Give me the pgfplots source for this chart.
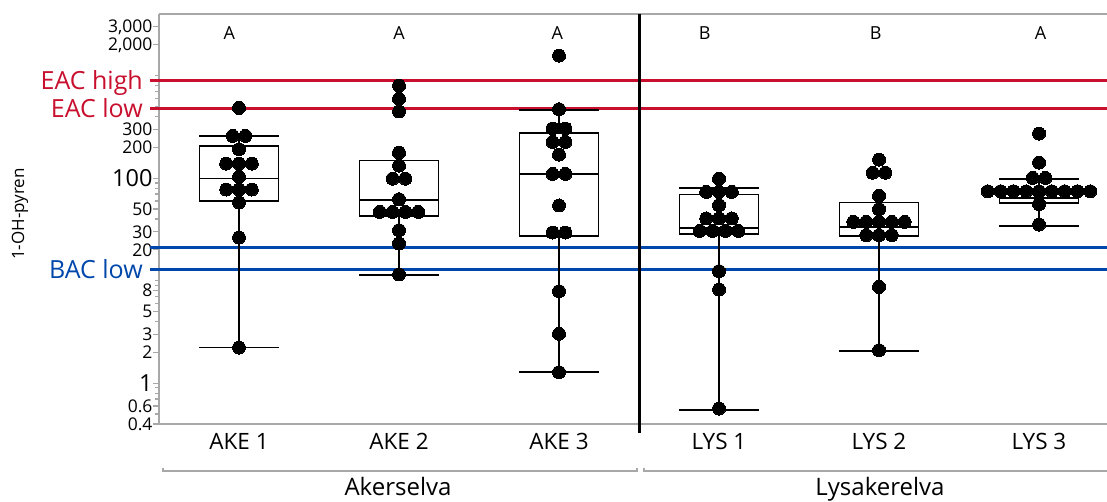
\documentclass[border=0pt]{standalone}
\usepackage{pgfplots}
\pgfplotsset{compat=1.18}
\usepgfplotslibrary{statistics}
\usepackage{fontspec}
\setmainfont{Open Sans}
\definecolor{axisgray}{RGB}{168,168,168}
\definecolor{eacred}{RGB}{200,16,46}
\definecolor{bacblue}{RGB}{0,71,171}
\pgfplotsset{
  boxplot/every box/.style={draw=black, line width=1.8pt},
  boxplot/every whisker/.style={draw=black, line width=1.8pt},
  boxplot/every median/.style={draw=black, line width=1.8pt},
}
\pgfplotstableread[row sep=\\]{
x y \\
0 485 \\ -0.04 259 \\ 0.04 259 \\ 0 192 \\ -0.08 139 \\ 0 139 \\ 0.08 139 \\ 0 103 \\
-0.08 77.6 \\ 0 77.6 \\ 0.08 77.6 \\ 0 58 \\ 0 26.4 \\ 0 2.23 \\
1 802 \\ 1 594 \\ 1 448 \\ 1 178 \\ 1 133 \\ 0.96 99 \\ 1.04 99 \\ 1 62.4 \\
0.88 46.9 \\ 0.96 46.9 \\ 1.04 46.9 \\ 1.12 46.9 \\ 1 31.1 \\ 1 23.1 \\ 1 11.5 \\
2 1574 \\ 2 471 \\ 1.96 305 \\ 2.04 305 \\ 1.96 226 \\ 2.04 226 \\ 2 170 \\ 1.96 110 \\ 2.04 110 \\
2 54.2 \\ 1.96 29.5 \\ 2.04 29.5 \\ 2 7.9 \\ 2 3.03 \\ 2 1.28 \\
3 99 \\ 2.92 73.5 \\ 3 73.5 \\ 3.08 73.5 \\ 3 54.5 \\ 2.92 40.5 \\ 3 40.5 \\ 3.08 40.5 \\
2.88 30.6 \\ 2.96 30.6 \\ 3.04 30.6 \\ 3.12 30.6 \\ 3 12.4 \\ 3 8.2 \\ 3 0.566 \\
4 152 \\ 3.96 113 \\ 4.04 113 \\ 4 67.1 \\ 4 49.9 \\ 3.84 37.5 \\ 3.92 37.5 \\ 4 37.5 \\ 4.08 37.5 \\ 4.16 37.5 \\
3.92 27.8 \\ 4 27.8 \\ 4.08 27.8 \\ 4 8.7 \\ 4 2.1 \\
5 273 \\ 5 142 \\ 4.96 100.7 \\ 5.04 100.7 \\
4.68 74.6 \\ 4.76 74.6 \\ 4.84 74.6 \\ 4.92 74.6 \\ 5 74.6 \\ 5.08 74.6 \\ 5.16 74.6 \\ 5.24 74.6 \\ 5.32 74.6 \\
5 56 \\ 5 35.3 \\
}\points
\begin{document}
\begin{tikzpicture}
\useasboundingbox (-159pt,-78pt) rectangle (948pt,424pt);
\begin{axis}[
  at={(0pt,0pt)}, anchor=south west,
  scale only axis, width=948pt, height=410pt,
  xmin=-0.5, xmax=5.425, ymode=log, ymin=0.4, ymax=4000,
  axis x line*=box, axis y line*=left,
  axis line style={draw=axisgray, line width=1.5pt},
  xtick={0,1,2,3,4,5},
  xticklabels={AKE 1,AKE 2,AKE 3,LYS 1,LYS 2,LYS 3},
  xtick style={draw=none},
  xticklabel style={font=\fontsize{22.5}{27}\selectfont},
  ytick={0.4,0.6,1,2,3,5,8,20,30,50,100,200,300,2000,3000},
  yticklabels={0.4,0.6,{\fontsize{23.5}{28}\selectfont 1},2,3,5,8,20,30,50,{\fontsize{23.5}{28}\selectfont 100},200,300,{2,000},{3,000}},
  minor ytick={0.5,0.7,0.8,0.9,4,6,7,9,10,40,60,70,80,90,400,500,600,700,800,900,1000},
  yticklabel style={font=\fontsize{17.5}{21}\selectfont, xshift=3pt},
  tick align=outside, major tick length=6pt, minor tick length=4pt,
  ytick style={draw=axisgray, line width=1.2pt},
  minor tick style={draw=axisgray, line width=1.2pt},
  clip=false,
]
% reference lines
\draw[eacred, line width=3pt] ([xshift=-9pt]axis cs:-0.5,890) -- (axis cs:5.425,890);
\draw[eacred, line width=3pt] ([xshift=-9pt]axis cs:-0.5,480) -- (axis cs:5.425,480);
\draw[bacblue, line width=3pt] ([xshift=-9pt]axis cs:-0.5,21) -- (axis cs:5.425,21);
\draw[bacblue, line width=3pt] ([xshift=-9pt]axis cs:-0.5,13) -- (axis cs:5.425,13);
\node[anchor=base east, text=eacred, font=\fontsize{25}{30}\selectfont, inner sep=0pt, yshift=-9pt] at ([xshift=-16pt]axis cs:-0.5,890) {EAC high};
\node[anchor=base east, text=eacred, font=\fontsize{25}{30}\selectfont, inner sep=0pt, yshift=-9pt] at ([xshift=-16pt]axis cs:-0.5,480) {EAC low};
\node[anchor=base east, text=bacblue, font=\fontsize{25}{30}\selectfont, inner sep=0pt, yshift=-9pt] at ([xshift=-16pt]axis cs:-0.5,13) {BAC low};
% boxplots
\addplot[black, line width=1.8pt, boxplot/draw direction=y, boxplot prepared={draw position=0, lower whisker=2.23, lower quartile=59.7, median=99.3, upper quartile=207, upper whisker=259, box extend=0.494, whisker extend=0.494}] coordinates {};
\addplot[black, line width=1.8pt, boxplot/draw direction=y, boxplot prepared={draw position=1, lower whisker=11.4, lower quartile=42.6, median=61.4, upper quartile=149, upper whisker=149, box extend=0.494, whisker extend=0.494}] coordinates {};
\addplot[black, line width=1.8pt, boxplot/draw direction=y, boxplot prepared={draw position=2, lower whisker=1.28, lower quartile=27.4, median=110, upper quartile=277, upper whisker=465, box extend=0.494, whisker extend=0.494}] coordinates {};
\addplot[black, line width=1.8pt, boxplot/draw direction=y, boxplot prepared={draw position=3, lower whisker=0.55, lower quartile=28.4, median=32.8, upper quartile=69.3, upper whisker=79.8, box extend=0.494, whisker extend=0.494}] coordinates {};
\addplot[black, line width=1.8pt, boxplot/draw direction=y, boxplot prepared={draw position=4, lower whisker=2.07, lower quartile=27.4, median=33.2, upper quartile=58, upper whisker=58, box extend=0.494, whisker extend=0.494}] coordinates {};
\addplot[black, line width=1.8pt, boxplot/draw direction=y, boxplot prepared={draw position=5, lower whisker=34.2, lower quartile=57.4, median=64.3, upper quartile=71, upper whisker=99, box extend=0.494, whisker extend=0.494}] coordinates {};
% points
\addplot[only marks, mark=*, mark size=6.5pt, black, mark options={draw=black, fill=black, line width=0pt}] table[x=x, y=y] {\points};
% letters
\node[font=\fontsize{18}{21}\selectfont] at (axis cs:-0.06,2600) {A};
\node[font=\fontsize{18}{21}\selectfont] at (axis cs:1,2600) {A};
\node[font=\fontsize{18}{21}\selectfont] at (axis cs:1.99,2600) {A};
\node[font=\fontsize{18}{21}\selectfont] at (axis cs:2.91,2600) {B};
\node[font=\fontsize{18}{21}\selectfont] at (axis cs:3.98,2600) {B};
\node[font=\fontsize{18}{21}\selectfont] at (axis cs:5.01,2600) {A};
\end{axis}
% divider
\draw[black, line width=3pt] (480pt,-9pt) -- (480pt,410pt);
% group brackets
\draw[axisgray, line width=1.5pt] (4pt,-44pt) -- (4pt,-47pt) -- (478pt,-47pt) -- (478pt,-44pt);
\draw[axisgray, line width=1.5pt] (485pt,-44pt) -- (485pt,-47pt) -- (960pt,-47pt);
\node[anchor=base, font=\fontsize{24}{29}\selectfont] at (239pt,-72pt) {Akerselva};
\node[anchor=base, font=\fontsize{24}{29}\selectfont] at (721pt,-72pt) {Lysakerelva};
\node[rotate=90, font=\fontsize{17}{20}\selectfont] at (-139pt,210pt) {1-OH-pyren};
\end{tikzpicture}
\end{document}
